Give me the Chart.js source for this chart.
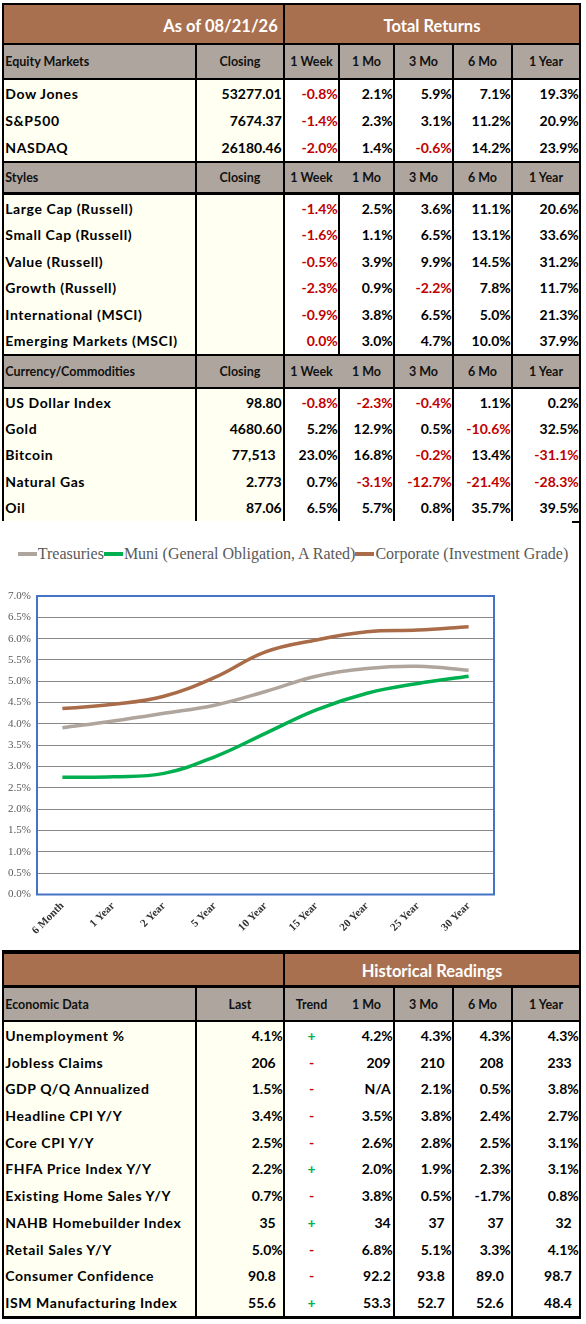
<!DOCTYPE html>
<html>
<head>
<meta charset="utf-8">
<script src="https://cdn.jsdelivr.net/npm/chart.js@4.4.1/dist/chart.umd.min.js"></script>
<style>
  body { margin:0; background:#fff; font-family: Lato, "Open Sans", sans-serif; }
  #page { position:relative; width:586px; height:1324px; overflow:hidden; }
  .box { position:absolute; box-sizing:border-box; }
  .cell { position:absolute; box-sizing:border-box; display:flex; align-items:center;
          white-space:nowrap; font-weight:700; color:#000; }
  #legend { position:absolute; left:0; top:545px; width:586px; height:18px; display:flex;
            justify-content:center; align-items:center; font-family:"Liberation Serif", serif;
            font-size:16px; color:#595959; white-space:nowrap; }
  #legend span.mk { display:inline-block; width:19px; height:3.5px; margin-right:1px; }
  #legend span.it { display:flex; align-items:center; }
  #chartWrap { position:absolute; left:0; top:580px; width:586px; height:370px; }
</style>
</head>
<body>
<div id="page">
  <div id="legend"></div>
  <div id="chartWrap"><canvas id="chYield" width="586" height="370"></canvas></div>
</div>
<script>
// ---- market table data ----
var asOf = '08/21/26';
var returnCols = ['1 Week','1 Mo','3 Mo','6 Mo','1 Year'];

var equityNames = ['Dow Jones','S&P500','NASDAQ'];
var equityClose = ['53277.01','7674.37','26180.46'];
var equityReturns = [
  [-0.8, 2.1, 5.9, 7.1, 19.3],
  [-1.4, 2.3, 3.1, 11.2, 20.9],
  [-2.0, 1.4, -0.6, 14.2, 23.9]
];

var styleNames = ['Large Cap (Russell)','Small Cap (Russell)','Value (Russell)','Growth (Russell)','International (MSCI)','Emerging Markets (MSCI)'];
var styleClose = ['','','','','',''];
var styleReturns = [
  [-1.4, 2.5, 3.6, 11.1, 20.6],
  [-1.6, 1.1, 6.5, 13.1, 33.6],
  [-0.5, 3.9, 9.9, 14.5, 31.2],
  [-2.3, 0.9, -2.2, 7.8, 11.7],
  [-0.9, 3.8, 6.5, 5.0, 21.3],
  [-0.04, 3.0, 4.7, 10.0, 37.9]
];

var commodNames = ['US Dollar Index','Gold','Bitcoin','Natural Gas','Oil'];
var commodClose = ['98.80','4680.60','77,513','2.773','87.06'];
var commodReturns = [
  [-0.8, -2.3, -0.4, 1.1, 0.2],
  [5.2, 12.9, 0.5, -10.6, 32.5],
  [23.0, 16.8, -0.2, 13.4, -31.1],
  [0.7, -3.1, -12.7, -21.4, -28.3],
  [6.5, 5.7, 0.8, 35.7, 39.5]
];

// ---- yield curve data ----
var tenors = ['6 Month','1 Year','2 Year','5 Year','10 Year','15 Year','20 Year','25 Year','30 Year'];
var treasuries = [3.91, 4.07, 4.25, 4.44, 4.76, 5.12, 5.30, 5.35, 5.26];
var muni       = [2.75, 2.76, 2.84, 3.23, 3.78, 4.33, 4.72, 4.95, 5.12];
var corporate  = [4.36, 4.46, 4.65, 5.09, 5.69, 5.97, 6.16, 6.20, 6.28];
var seriesNames = ['Treasuries','Muni (General Obligation, A Rated)','Corporate (Investment Grade)'];
var seriesColors = ['#AFA59D','#00B050','#AA6B48'];
var yTicks = [0, 7, 0.5]; // min, max, step

// ---- economic data ----
var histCols = ['Trend','1 Mo','3 Mo','6 Mo','1 Year'];
var econNames = ['Unemployment %','Jobless Claims','GDP Q/Q Annualized','Headline CPI Y/Y','Core CPI Y/Y',
  'FHFA Price Index Y/Y','Existing Home Sales Y/Y','NAHB Homebuilder Index','Retail Sales Y/Y',
  'Consumer Confidence','ISM Manufacturing Index'];
var econLast = ['4.1%','206','1.5%','3.4%','2.5%','2.2%','0.7%','35','5.0%','90.8','55.6'];
var econTrend = ['+','-','-','-','-','+','-','+','-','-','+'];
var econHist = [
  ['4.2%','4.3%','4.3%','4.3%'],
  ['209','210','208','233'],
  ['N/A','2.1%','0.5%','3.8%'],
  ['3.5%','3.8%','2.4%','2.7%'],
  ['2.6%','2.8%','2.5%','3.1%'],
  ['2.0%','1.9%','2.3%','3.1%'],
  ['3.8%','0.5%','-1.7%','0.8%'],
  ['34','37','37','32'],
  ['6.8%','5.1%','3.3%','4.1%'],
  ['92.2','93.8','89.0','98.7'],
  ['53.3','52.7','52.6','48.4']
];

// colours
var brown = '#A9704F', taupe = '#AEA69E', cream = '#FFFFF2', red = '#C00000', green = '#00B050';
var colX = [3, 196, 284, 339, 394, 453, 512, 580];

var page = document.getElementById('page');

function el(cls, x, y, w, h, css) {
  var d = document.createElement('div');
  d.className = cls;
  d.style.left = x + 'px'; d.style.top = y + 'px';
  d.style.width = w + 'px'; d.style.height = h + 'px';
  if (css) Object.assign(d.style, css);
  page.appendChild(d);
  return d;
}
function fill(x1, y1, x2, y2, c) { el('box', x1, y1, x2 - x1, y2 - y1, {background: c}); }
function vline(x, y1, y2) { fill(x - 1.25, y1, x + 1.25, y2, '#000'); }
function hline(y1, y2) { fill(1.75, y1, 581.25, y2, '#000'); }
function txt(x1, x2, y1, y2, s, o) {
  o = o || {};
  var d = el('cell', x1 + 1.25, y1, x2 - x1 - 2.5, y2 - y1, {
    justifyContent: o.align || 'flex-end',
    fontSize: (o.size || 14) + 'px',
    color: o.color || '#000',
    letterSpacing: (o.ls || 0) + 'px',
    paddingLeft: (o.pl || 0) + 'px',
    paddingRight: (o.pr || 0) + 'px',
    paddingTop: (o.pt || 0) + 'px'
  });
  d.textContent = s;
}
function pct(v) { return (Math.round(v * 10) / 10).toFixed(1) + '%'; }

// header band: grey strip with labels
function headerBand(y1, y2, labels, lines) {
  fill(3, y1, 580, y2, taupe);
  lines.forEach(function (i) { vline(colX[i], y1, y2); });
  txt(colX[0], colX[1], y1, y2, labels[0], {align: 'flex-start', size: 12.5, pl: 1, color: '#111'});
  for (var i = 1; i < labels.length; i++) {
    txt(colX[i], colX[i + 1], y1, y2, labels[i], {align: 'center', size: 12.5, color: '#111'});
  }
}
function rowBg(y1, y2, lines) {
  fill(3, y1, colX[2], y2, cream);
  fill(colX[2], y1, 580, y2, '#fff');
  lines.forEach(function (i) { vline(colX[i], y1, y2); });
}

// ===== table 1 : total returns =====
fill(3, 5, 580, 43, brown);
vline(colX[2], 5, 43);
txt(colX[0], colX[2], 5, 43, 'As of  ' + asOf, {size: 16.5, color: '#fff', pr: 5, pt: 3});
txt(colX[2], colX[7], 5, 43, 'Total Returns', {size: 16.5, color: '#fff', align: 'center', pt: 3});

var sections = [
  {label: 'Equity Markets', names: equityNames, close: equityClose, rets: equityReturns},
  {label: 'Styles', names: styleNames, close: styleClose, rets: styleReturns},
  {label: 'Currency/Commodities', names: commodNames, close: commodClose, rets: commodReturns}
];
var bands = [
  {hy: 45, hh: 33, ry: 80, ry2: 161, split: true},
  {hy: 163, hh: 29, ry: 195, ry2: 354, split: false},
  {hy: 356, hh: 31, ry: 389, ry2: 521, split: false}
];
sections.forEach(function (s, k) {
  var b = bands[k];
  headerBand(b.hy, b.hy + b.hh, [s.label, 'Closing'].concat(returnCols),
    b.split ? [1, 2, 3, 4, 5, 6] : [1, 2, 4, 5, 6]);
  rowBg(b.ry, b.ry2, [1, 2, 3, 4, 5, 6]);
  var rh = (b.ry2 - b.ry) / s.names.length;
  s.names.forEach(function (n, r) {
    var y1 = b.ry + r * rh, y2 = y1 + rh;
    txt(colX[0], colX[1], y1, y2, n, {align: 'flex-start', pl: 1, ls: 0.6});
    txt(colX[1], colX[2], y1, y2, s.close[r], {pr: s.close[r].indexOf(',') >= 0 ? 7 : 1});
    s.rets[r].forEach(function (v, c) {
      txt(colX[c + 2], colX[c + 3], y1, y2, pct(v), {color: v < 0 ? red : '#000', pr: 0});
    });
  });
});
hline(3, 5); hline(43, 45); hline(78, 80); hline(161, 163);
hline(192, 195); hline(354, 356); hline(387, 389);
vline(3, 3, 521);
vline(580, 3, 950);
fill(572, 520.5, 581, 523, '#000');

// ===== table 2 : economic data =====
fill(3, 954, 580, 985, brown);
vline(colX[2], 954, 985);
txt(colX[2], colX[7], 954, 985, 'Historical Readings', {size: 16.5, color: '#fff', align: 'center', pt: 2});
headerBand(988, 1020, ['Economic Data', 'Last'].concat(histCols), [1, 2, 4, 5, 6]);
rowBg(1022, 1316, [1, 2, 4, 5, 6]);
var erh = (1316 - 1022) / econNames.length;
econNames.forEach(function (n, r) {
  var y1 = 1022 + r * erh, y2 = y1 + erh;
  txt(colX[0], colX[1], y1, y2, n, {align: 'flex-start', pl: 1, ls: 0.6});
  txt(colX[1], colX[2], y1, y2, econLast[r], {pr: /%$/.test(econLast[r]) ? 0 : 7});
  txt(colX[2], colX[3], y1, y2, econTrend[r], {align: 'center', color: econTrend[r] === '+' ? green : red});
  econHist[r].forEach(function (v, c) {
    var pr = /%$/.test(v) ? 0 : (c === 0 ? 2 : 7);
    txt(colX[c + 3], colX[c + 4], y1, y2, v, {pr: pr});
  });
});
hline(950, 954); hline(985, 988); hline(1020, 1022); hline(1316, 1319);
vline(3, 950, 1319);
vline(580, 950, 1319);

// ===== yield curve chart =====
var plotBorder = {
  id: 'plotBorder',
  afterDraw: function (chart) {
    var a = chart.chartArea, c = chart.ctx;
    c.save();
    c.strokeStyle = '#4472C4';
    c.lineWidth = 2;
    c.strokeRect(a.left, a.top, a.right - a.left, a.bottom - a.top);
    c.restore();
  }
};

var htmlLegend = {
  id: 'htmlLegend',
  afterUpdate: function (chart) {
    var box = document.getElementById('legend');
    box.innerHTML = '';
    chart.options.plugins.legend.labels.generateLabels(chart).forEach(function (item) {
      var it = document.createElement('span');
      it.className = 'it';
      var mk = document.createElement('span');
      mk.className = 'mk';
      mk.style.background = item.strokeStyle;
      it.appendChild(mk);
      it.appendChild(document.createTextNode(item.text));
      box.appendChild(it);
    });
  }
};

var yieldData = {
  labels: tenors,
  datasets: [treasuries, muni, corporate].map(function (d, i) {
    return {
      label: seriesNames[i],
      data: d,
      borderColor: seriesColors[i],
      backgroundColor: seriesColors[i],
      borderWidth: 3.5,
      tension: 0.4,
      pointRadius: 0,
      fill: false
    };
  })
};

var chYield = document.getElementById('chYield');
if (chYield) {
  new Chart(chYield, {
    type: 'line',
    data: yieldData,
    options: {
      responsive: false,
      animation: false,
      layout: {padding: {top: 16, right: 92, left: 0, bottom: 0}},
      plugins: {legend: {display: false}, tooltip: {enabled: false}},
      scales: {
        x: {
          offset: true,
          grid: {display: false, drawTicks: false},
          border: {display: false},
          ticks: {
            minRotation: 45, maxRotation: 45, padding: 5, color: '#333333',
            font: {family: 'Liberation Serif', size: 11, weight: 'bold'}
          },
          afterFit: function (s) { s.height = 55.5; }
        },
        y: {
          min: yTicks[0], max: yTicks[1],
          grid: {color: '#888888', lineWidth: 1, drawTicks: false},
          border: {display: false},
          ticks: {
            stepSize: yTicks[2], padding: 6, color: '#595959',
            font: {family: 'Liberation Serif', size: 11},
            callback: function (v) { return v.toFixed(1) + '%'; }
          },
          afterFit: function (s) { s.width = 37; }
        }
      }
    },
    plugins: [plotBorder, htmlLegend]
  });
}
</script>
</body>
</html>
